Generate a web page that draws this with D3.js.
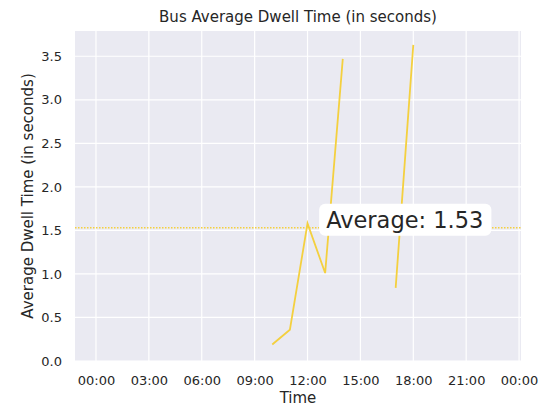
<!DOCTYPE html>
<html>
<head>
<meta charset="utf-8">
<script src="https://cdn.jsdelivr.net/npm/d3@7"></script>
<style>
  body { margin: 0; background: #fff; }
  svg { font-family: "DejaVu Sans", sans-serif; }
</style>
</head>
<body>
<div id="chart"></div>
<script>
// données
const hours = [10, 11, 12, 13, 14, 15, 16, 17, 18];
const dwell = [0.19, 0.36, 1.58, 1.01, 3.47, null, null, 0.84, 3.63];
const average = 1.53;
const xTicks = [0, 3, 6, 9, 12, 15, 18, 21, 24];
const yTicks = [0, 0.5, 1, 1.5, 2, 2.5, 3, 3.5];

const width = 541, height = 408;
const margin = { top: 31, right: 20, bottom: 47, left: 75 };
const lineColor = "#f4d03f";
const ink = "#262626";

const svg = d3.select("#chart").append("svg")
  .attr("width", width).attr("height", height);

const x = d3.scaleLinear()
  .domain([-1.19, 24.11])
  .range([margin.left, width - margin.right]);
const y = d3.scaleLinear()
  .domain([0, 3.79])
  .range([height - margin.bottom, margin.top]);

// fond gris seaborn
svg.append("rect")
  .attr("x", margin.left).attr("y", margin.top)
  .attr("width", width - margin.left - margin.right)
  .attr("height", height - margin.top - margin.bottom)
  .attr("fill", "#eaeaf2");

// grille
svg.append("g").selectAll("line").data(xTicks).join("line")
  .attr("x1", d => x(d)).attr("x2", d => x(d))
  .attr("y1", margin.top).attr("y2", height - margin.bottom)
  .attr("stroke", "#fff").attr("stroke-width", 1.2);
svg.append("g").selectAll("line").data(yTicks).join("line")
  .attr("x1", margin.left).attr("x2", width - margin.right)
  .attr("y1", d => y(d)).attr("y2", d => y(d))
  .attr("stroke", "#fff").attr("stroke-width", 1.2);

// axes
const fmt = h => String(h % 24).padStart(2, "0") + ":00";
const gx = svg.append("g")
  .attr("transform", `translate(0,${height - margin.bottom})`)
  .call(d3.axisBottom(x).tickValues(xTicks).tickFormat(fmt).tickSize(0).tickPadding(15));
const gy = svg.append("g")
  .attr("transform", `translate(${margin.left},0)`)
  .call(d3.axisLeft(y).tickValues(yTicks).tickFormat(d3.format(".1f")).tickSize(0).tickPadding(13));
[gx, gy].forEach(g => {
  g.select(".domain").remove();
  g.selectAll("text").attr("font-size", 13).attr("fill", ink)
    .attr("font-family", "DejaVu Sans, sans-serif");
});

// ligne moyenne pointillée
svg.append("line")
  .attr("x1", margin.left).attr("x2", width - margin.right)
  .attr("y1", y(average)).attr("y2", y(average))
  .attr("stroke", lineColor).attr("stroke-width", 1.5)
  .attr("stroke-dasharray", "1.5,1.5");

// série
const line = d3.line()
  .defined(d => d[1] !== null)
  .x(d => x(d[0])).y(d => y(d[1]));
svg.append("path")
  .datum(hours.map((h, i) => [h, dwell[i]]))
  .attr("fill", "none")
  .attr("stroke", lineColor)
  .attr("stroke-width", 1.8)
  .attr("d", line);

// étiquette moyenne
const label = svg.append("g");
const txt = label.append("text")
  .attr("x", x(13) + 1).attr("y", y(average))
  .attr("font-size", 22.5).attr("fill", ink)
  .text("Average: " + average.toFixed(2));
const bb = txt.node().getBBox();
label.insert("rect", "text")
  .attr("x", bb.x - 7).attr("y", bb.y - 3)
  .attr("width", bb.width + 15).attr("height", bb.height + 6)
  .attr("rx", 6).attr("fill", "#fff");

// titres
const cx = (margin.left + width - margin.right) / 2;
svg.append("text")
  .attr("x", cx).attr("y", 22)
  .attr("text-anchor", "middle").attr("font-size", 15).attr("fill", ink)
  .text("Bus Average Dwell Time (in seconds)");
svg.append("text")
  .attr("x", cx).attr("y", 403)
  .attr("text-anchor", "middle").attr("font-size", 15).attr("fill", ink)
  .text("Time");
svg.append("text")
  .attr("transform", `translate(33,${(margin.top + height - margin.bottom) / 2}) rotate(-90)`)
  .attr("text-anchor", "middle").attr("font-size", 15).attr("fill", ink)
  .text("Average Dwell Time (in seconds)");
</script>
</body>
</html>
